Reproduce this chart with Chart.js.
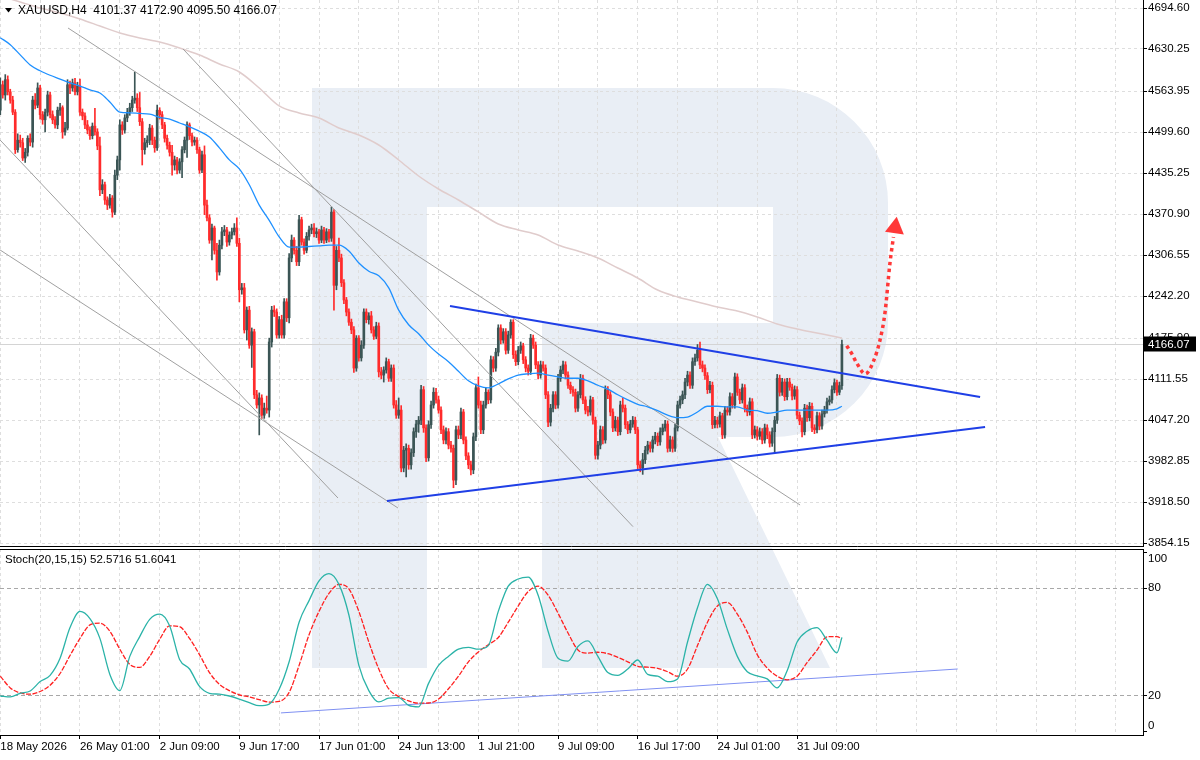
<!DOCTYPE html>
<html>
<head>
<meta charset="utf-8">
<script src="https://cdn.jsdelivr.net/npm/chart.js@4.4.1/dist/chart.umd.min.js"></script>
<style>
  html, body { margin: 0; padding: 0; background: #fff; }
  #wrap { position: relative; width: 1200px; height: 760px; overflow: hidden; background: #fff; }
  #main { position: absolute; left: 0; top: 0; width: 1200px; height: 547px; }
  #osc { position: absolute; left: 0; top: 548px; width: 1200px; height: 212px; }
</style>
</head>
<body>
<div id="wrap">
  <canvas id="main" width="1200" height="547"></canvas>
  <canvas id="osc" width="1200" height="212"></canvas>
</div>
<script>
var symbol = "XAUUSD,H4";
var stochName = "Stoch(20,15,15)";
var stochLast = [52.5716, 51.6041];

var dateLabels = ["18 May 2026", "26 May 01:00", "2 Jun 09:00", "9 Jun 17:00", "17 Jun 01:00",
  "24 Jun 13:00", "1 Jul 21:00", "9 Jul 09:00", "16 Jul 17:00", "24 Jul 01:00", "31 Jul 09:00"];
var labelStep = 32;
var gridStep = 16;

var priceTicks = [4694.60, 4630.25, 4563.95, 4499.60, 4435.25, 4370.90, 4306.55, 4242.20,
  4175.90, 4111.55, 4047.20, 3982.85, 3918.50, 3854.15];
var stochTicks = [100, 80, 20, 0];
var stochLevels = [80, 20];

// H4 bars: [open, high, low, close]
var ohlc = [
  [4534,4585,4527,4574],[4574,4580,4553,4558],[4558,4590,4550,4582],[4582,4588,4558,4563],[4563,4567,4545,4550],
  [4550,4556,4527,4531],[4531,4535,4466,4472],[4472,4497,4468,4487],[4487,4495,4476,4483],[4483,4490,4455,4459],
  [4459,4474,4452,4468],[4468,4494,4462,4490],[4490,4497,4478,4484],[4484,4556,4476,4550],[4550,4560,4536,4542],
  [4542,4577,4538,4569],[4569,4573,4520,4527],[4527,4532,4512,4519],[4519,4536,4500,4531],[4531,4564,4525,4558],
  [4558,4562,4522,4527],[4527,4533,4513,4519],[4519,4524,4506,4511],[4511,4539,4505,4534],[4534,4545,4526,4538],
  [4538,4541,4490,4500],[4500,4515,4495,4506],[4506,4582,4503,4574],[4574,4580,4560,4569],[4569,4583,4564,4577],
  [4577,4584,4558,4563],[4563,4578,4558,4572],[4572,4583,4526,4531],[4531,4536,4519,4525],[4525,4530,4505,4511],
  [4511,4518,4497,4503],[4503,4508,4488,4494],[4494,4514,4489,4509],[4509,4537,4495,4500],[4500,4505,4472,4478],
  [4478,4492,4400,4409],[4409,4425,4403,4417],[4417,4421,4386,4393],[4393,4398,4378,4385],[4385,4402,4380,4396],
  [4396,4400,4366,4374],[4374,4440,4370,4432],[4432,4462,4425,4456],[4456,4519,4440,4511],[4511,4516,4496,4503],
  [4503,4527,4498,4522],[4522,4537,4516,4531],[4531,4545,4526,4538],[4538,4556,4532,4550],[4550,4594,4545,4553],
  [4553,4560,4532,4538],[4538,4562,4510,4516],[4516,4521,4448,4472],[4472,4490,4465,4483],[4483,4494,4476,4487],
  [4487,4512,4480,4506],[4506,4510,4480,4487],[4487,4492,4468,4475],[4475,4542,4471,4534],[4534,4538,4520,4527],
  [4527,4532,4505,4511],[4511,4515,4484,4490],[4490,4495,4473,4479],[4479,4484,4462,4468],[4468,4479,4432,4448],
  [4448,4462,4440,4456],[4456,4460,4434,4440],[4440,4458,4435,4453],[4453,4477,4428,4472],[4472,4492,4467,4487],
  [4487,4516,4460,4511],[4511,4514,4488,4494],[4494,4498,4478,4484],[4484,4492,4479,4487],[4487,4491,4466,4472],
  [4472,4476,4435,4440],[4440,4470,4436,4464],[4464,4478,4370,4385],[4385,4393,4360,4365],[4365,4370,4325,4330],
  [4330,4355,4299,4349],[4349,4352,4308,4314],[4314,4325,4267,4280],[4280,4330,4275,4322],[4322,4350,4316,4343],
  [4343,4353,4337,4346],[4346,4350,4320,4327],[4327,4343,4322,4338],[4338,4349,4332,4343],[4343,4356,4338,4349],
  [4349,4365,4320,4325],[4325,4333,4233,4252],[4252,4262,4245,4255],[4255,4262,4184,4189],[4189,4225,4173,4220],
  [4220,4226,4160,4165],[4165,4192,4130,4186],[4186,4190,4081,4087],[4087,4094,4066,4071],[4071,4090,4024,4082],
  [4082,4087,4050,4055],[4055,4074,4050,4066],[4066,4085,4058,4063],[4063,4176,4052,4170],[4170,4226,4162,4220],
  [4220,4227,4210,4217],[4217,4222,4176,4181],[4181,4210,4176,4205],[4205,4212,4176,4181],[4181,4238,4176,4233],
  [4233,4238,4202,4208],[4208,4309,4200,4302],[4302,4338,4296,4330],[4330,4334,4308,4314],[4314,4320,4290,4296],
  [4296,4369,4290,4362],[4362,4366,4322,4327],[4327,4332,4308,4314],[4314,4342,4310,4336],[4336,4352,4330,4346],
  [4346,4355,4340,4349],[4349,4356,4335,4340],[4340,4349,4334,4343],[4343,4347,4325,4330],[4330,4352,4326,4346],
  [4346,4350,4325,4330],[4330,4348,4326,4343],[4343,4347,4327,4333],[4333,4382,4328,4374],[4374,4378,4220,4259],
  [4259,4320,4252,4314],[4314,4333,4296,4302],[4302,4308,4257,4263],[4263,4268,4230,4236],[4236,4240,4211,4217],
  [4217,4222,4196,4201],[4201,4206,4183,4189],[4189,4194,4122,4129],[4129,4180,4124,4176],[4176,4180,4140,4145],
  [4145,4172,4140,4165],[4165,4222,4160,4217],[4217,4222,4200,4205],[4205,4216,4198,4211],[4211,4218,4184,4189],
  [4189,4194,4174,4179],[4179,4201,4175,4195],[4195,4200,4115,4123],[4123,4130,4112,4118],[4118,4131,4107,4126],
  [4126,4145,4121,4139],[4139,4143,4108,4113],[4113,4134,4108,4129],[4129,4134,4066,4071],[4071,4078,4050,4055],
  [4055,4082,4050,4063],[4063,4070,3966,3972],[3972,4006,3966,4000],[4000,4010,3958,4003],[4003,4008,3970,3977],
  [3977,4002,3970,3996],[3996,4035,3990,4029],[4029,4047,4020,4041],[4041,4053,4028,4047],[4047,4102,4040,4095],
  [4095,4100,4028,4035],[4035,4040,3982,3988],[3988,4046,3983,4040],[4040,4077,4034,4071],[4071,4098,4066,4091],
  [4091,4097,4074,4079],[4079,4085,4058,4063],[4063,4068,4026,4032],[4032,4038,4010,4016],[4016,4035,4010,4029],
  [4029,4034,4002,4008],[4008,4014,3997,4003],[4003,4008,3941,3953],[3953,4038,3946,4032],[4032,4038,4018,4024],
  [4024,4066,4018,4060],[4060,4064,4010,4016],[4016,4021,3985,3991],[3991,3996,3971,3977],[3977,3983,3961,3969],
  [3969,4027,3963,4021],[4021,4104,4015,4098],[4098,4115,4066,4071],[4071,4077,4026,4032],[4032,4077,4026,4071],
  [4071,4097,4066,4091],[4091,4095,4073,4079],[4079,4148,4074,4142],[4142,4147,4123,4129],[4129,4160,4124,4154],
  [4154,4197,4148,4192],[4192,4197,4167,4173],[4173,4191,4168,4186],[4186,4191,4151,4157],[4157,4187,4152,4181],
  [4181,4205,4176,4201],[4201,4205,4144,4150],[4150,4156,4133,4139],[4139,4163,4134,4157],[4157,4170,4152,4164],
  [4164,4168,4136,4142],[4142,4147,4123,4129],[4129,4134,4118,4124],[4124,4182,4119,4176],[4176,4181,4160,4165],
  [4165,4170,4128,4134],[4134,4139,4112,4118],[4118,4140,4113,4134],[4134,4139,4124,4129],[4129,4134,4081,4087],
  [4087,4092,4037,4044],[4044,4072,4038,4066],[4066,4092,4060,4087],[4087,4092,4065,4071],[4071,4119,4066,4113],
  [4113,4132,4108,4126],[4126,4140,4120,4134],[4134,4139,4112,4118],[4118,4123,4097,4102],[4102,4107,4089,4095],
  [4095,4100,4085,4091],[4091,4096,4060,4066],[4066,4092,4061,4087],[4087,4119,4082,4113],[4113,4118,4073,4079],
  [4079,4084,4057,4063],[4063,4069,4054,4060],[4060,4085,4055,4079],[4079,4083,4041,4047],[4047,4052,3986,3992],
  [3992,4014,3986,4008],[4008,4038,4002,4032],[4032,4037,4010,4016],[4016,4101,4011,4095],[4095,4100,4081,4087],
  [4087,4092,4054,4060],[4060,4065,4029,4035],[4035,4053,4030,4047],[4047,4052,4023,4029],[4029,4077,4024,4071],
  [4071,4082,4060,4066],[4066,4071,4034,4040],[4040,4045,4026,4032],[4032,4047,4027,4041],[4041,4053,4036,4047],
  [4047,4052,4026,4032],[4032,4036,3970,3977],[3977,3983,3966,3972],[3972,3995,3962,3985],[3985,4006,3979,4000],
  [4000,4014,3994,4008],[4008,4013,3997,4003],[4003,4022,3997,4016],[4016,4028,4010,4022],[4022,4027,4007,4013],
  [4013,4035,4008,4029],[4029,4041,4024,4035],[4035,4047,4030,4041],[4041,4046,3997,4003],[4003,4022,3998,4016],
  [4016,4021,3997,4003],[4003,4041,3998,4035],[4035,4077,4030,4071],[4071,4085,4066,4079],[4079,4093,4073,4087],
  [4087,4113,4081,4107],[4107,4124,4101,4118],[4118,4123,4097,4102],[4102,4145,4097,4139],[4139,4151,4133,4145],
  [4145,4166,4140,4157],[4157,4170,4128,4134],[4134,4140,4123,4129],[4129,4134,4111,4117],[4117,4122,4089,4095],
  [4095,4108,4090,4102],[4102,4107,4034,4040],[4040,4053,4035,4047],[4047,4052,4035,4041],[4041,4060,4036,4054],
  [4054,4058,4018,4024],[4024,4069,4019,4063],[4063,4068,4055,4060],[4060,4090,4055,4084],[4084,4089,4066,4071],
  [4071,4121,4066,4115],[4115,4120,4086,4091],[4091,4096,4073,4079],[4079,4104,4074,4098],[4098,4103,4060,4066],
  [4066,4071,4054,4060],[4060,4082,4055,4076],[4076,4081,4018,4024],[4024,4038,4019,4032],[4032,4037,4016,4022],
  [4022,4035,4017,4029],[4029,4034,4010,4016],[4016,4041,4011,4035],[4035,4040,4018,4024],[4024,4029,4005,4011],
  [4011,4035,4006,4029],[4029,4053,3996,4047],[4047,4119,4042,4113],[4113,4118,4085,4091],[4091,4113,4086,4107],
  [4107,4112,4078,4084],[4084,4113,4079,4107],[4107,4113,4094,4099],[4099,4104,4079,4085],[4085,4101,4080,4095],
  [4095,4100,4049,4055],[4055,4060,4040,4046],[4046,4051,4021,4029],[4029,4072,4024,4066],[4066,4071,4045,4051],
  [4051,4075,4046,4069],[4069,4074,4029,4035],[4035,4040,4026,4032],[4032,4060,4027,4054],[4054,4059,4032,4038],
  [4038,4063,4033,4057],[4057,4069,4052,4063],[4063,4082,4058,4076],[4076,4085,4071,4079],[4079,4101,4074,4095],
  [4095,4112,4090,4106],[4106,4110,4086,4091],[4091,4107,4087,4101.37],[4101.37,4172.90,4095.50,4166.07]
];

// moving averages, read every 4th / 8th bar
var maFastStep = 4;
var maFast = [4648,4637,4621,4605,4596,4589,4583,4577,4572,4566,
  4561,4547,4531,4530,4529,4528,4523,4520,4514,4508,
  4501,4492,4475,4456,4442,4417,4385,4361,4335,4319,
  4319,4320,4321,4322,4322,4313,4294,4281,4274,4255,
  4220,4197,4183,4165,4151,4139,4124,4109,4101,4098,
  4104,4112,4118,4120,4121,4118,4115,4113,4113,4109,
  4102,4096,4087,4079,4072,4068,4062,4055,4051,4052,
  4060,4069,4069,4068,4068,4063,4062,4058,4060,4063,
  4063,4063,4063,4063,4065,4069];
var maSlowStep = 8;
var maSlow = [4713.5,4704.1,4694.6,4686.8,4677.4,4666.4,4655.4,4647.5,4641.2,4631.8,
  4620.8,4606.7,4594.1,4569.0,4540.7,4529.7,4521.8,4506.1,4495.1,4479.4,
  4455.9,4430.7,4410.3,4393.0,4374.2,4355.3,4345.9,4338.0,4322.3,4312.9,
  4301.9,4286.2,4270.5,4251.6,4240.6,4232.8,4224.9,4218.6,4209.2,4198.2,
  4190.4,4184.1,4177.8,4176.2];

// stochastic, read every 4th bar
var stochStep = 4;
var stochMain = [20,19.5,21.5,22.8,28,31.5,41,58,67,63,
  52,32,23,42,53,62.6,65.5,59,40.3,35,
  25.3,21.5,21,20,18.3,16.3,14.6,15.5,23.7,39,
  61,73,84,88,82,65,37,23,16.7,18.8,
  19.1,14.8,14,27,37,42,46,47,46,48,
  67,81,85,86,76,56,41,39.4,47.5,50.6,
  42,33,31.5,35,40,32,31,28,29.5,50,
  69,82,74,57,42,33.5,31.2,29.5,24.5,34,
  50,56,58,51,44,52.5716];
var stochSignal = [31,24.5,21.7,21,22.5,26,32.5,42.5,52,59.5,
  60.5,56,46,37.5,35.9,42,51.5,59,58.5,52,
  43,33,26.5,23,20.6,19.5,18,16.6,17,22,
  37,54,67,77,82,79.5,67,50,35,24,
  19.7,17.3,16,16.1,18.3,24,31,39,44.5,48.5,
  52.5,61,70,78,81,76,66,55,45.6,43.8,
  44.3,43.5,41.5,39,36.5,36,35.4,33.5,31,35,
  48,61,70,72,65.5,55.5,43,35.5,31,29,
  31,38.5,45.5,52.9,53,51.6041];

// drawn lines: [bar, price, bar, price]
var grayLines = [[-0.1,4487.3,135.6,3924.9],[-0.1,4314.5,159.7,3909.2],
  [27.2,4663.2,321.2,3913.9],[73.4,4630.2,254.1,3879.9]];
var blueLines = [[180.6,4226.5,393.5,4083.6],[155.3,3920.2,395.5,4036.4]];
var stochLine = [112.7,10.6,384.5,35];
var forecastPath = [[339.9,4164],[341.9,4152],[343.9,4137],[347.4,4120],[350.6,4139],
  [353.3,4173],[355.3,4216],[357.3,4294],[358.7,4335]];
var forecastHead = [359.4, 4349.6];

var xMin = -0.12, xMax = 458.92;
var yMin = 3847.9, yMax = 4707.2;
var sMin = -1.67, sMax = 101.67;

var bullColor = "#3b5555";
var bearColor = "#ff2b2b";
var gridColor = "#dedede";
var logoColor = "#e9eef5";
var font = "'Liberation Sans', Arial, sans-serif";

Chart.defaults.font.family = font;
Chart.defaults.font.size = 11.5;
Chart.defaults.color = "#000";

var last = ohlc.length - 1;
var lastBar = ohlc[last];

function stepped(arr, step) {
  return arr.map(function (v, k) { return { x: Math.min(k * step, last), y: v }; });
}
function seg(l) { return [{ x: l[0], y: l[1] }, { x: l[2], y: l[3] }]; }
function gridTicks(scale) {
  var t = [];
  for (var v = 0; v <= xMax; v += gridStep) t.push({ value: v });
  scale.ticks = t;
}
function lineSet(data, color, width, extra) {
  var d = { type: "line", data: data, borderColor: color, borderWidth: width, pointRadius: 0,
    fill: false, cubicInterpolationMode: "monotone" };
  for (var k in extra) d[k] = extra[k];
  return d;
}

function drawLogo(ctx, offY) {
  ctx.save();
  ctx.translate(0, -offY);
  ctx.fillStyle = logoColor;
  ctx.beginPath();
  ctx.moveTo(312, 88);
  ctx.lineTo(773, 88);
  ctx.arc(773, 203, 115, -Math.PI / 2, 0);
  ctx.lineTo(888, 322);
  ctx.arc(773, 322, 115, 0, Math.PI / 2);
  ctx.lineTo(312, 437);
  ctx.closePath();
  ctx.fill();
  ctx.beginPath();
  ctx.moveTo(542, 437); ctx.lineTo(718, 437); ctx.lineTo(830, 668); ctx.lineTo(542, 668);
  ctx.closePath();
  ctx.fill();
  ctx.fillStyle = "#fff";
  ctx.fillRect(427, 207, 346, 116);
  ctx.fillRect(427, 323, 115, 114);
  ctx.fillStyle = logoColor;
  ctx.fillRect(312, 88, 115, 580);
  ctx.restore();
}

var candleColors = ohlc.map(function (b) { return b[3] >= b[0] ? bullColor : bearColor; });

var mainDatasets = [
  { type: "line", data: [{ x: forecastHead[0], y: forecastHead[1] }], showLine: false,
    pointStyle: "triangle", pointRadius: 11, rotation: 8, pointBackgroundColor: "#ff3838",
    pointBorderWidth: 0, borderWidth: 0 },
  lineSet(forecastPath.map(function (p) { return { x: p[0], y: p[1] }; }), "#ff3838", 3.5,
    { borderDash: [3.5, 3.5], borderCapStyle: "butt" }),
  lineSet(seg(blueLines[0]), "#1f3fe6", 2),
  lineSet(seg(blueLines[1]), "#1f3fe6", 2),
  lineSet(stepped(maFast, maFastStep), "#1e90ff", 1.3),
  lineSet(seg(grayLines[0]), "#a0a0a0", 1),
  lineSet(seg(grayLines[1]), "#a0a0a0", 1),
  lineSet(seg(grayLines[2]), "#a0a0a0", 1),
  lineSet(seg(grayLines[3]), "#a0a0a0", 1),
  lineSet(stepped(maSlow, maSlowStep), "#e0cccc", 1.5),
  { type: "bar", data: ohlc.map(function (b, i) { return { x: i, y: [b[0], b[3]] }; }),
    backgroundColor: candleColors, barThickness: 2, grouped: false, minBarLength: 1, borderWidth: 0 },
  { type: "bar", data: ohlc.map(function (b, i) { return { x: i, y: [b[2], b[1]] }; }),
    backgroundColor: candleColors, barThickness: 1, grouped: false, borderWidth: 0 }
];

var mainPlugin = {
  id: "mainDecor",
  beforeDraw: function (chart) {
    drawLogo(chart.ctx, 0);
  },
  beforeDatasetsDraw: function (chart) {
    var ctx = chart.ctx, a = chart.chartArea;
    var yP = Math.round(chart.scales.y.getPixelForValue(lastBar[3])) + 0.5;
    ctx.save();
    ctx.strokeStyle = "#d4d4d4";
    ctx.lineWidth = 1;
    ctx.beginPath(); ctx.moveTo(a.left, yP); ctx.lineTo(a.right, yP); ctx.stroke();
    ctx.restore();
  },
  afterDraw: function (chart) {
    var ctx = chart.ctx, a = chart.chartArea;
    ctx.save();
    ctx.strokeStyle = "#000";
    ctx.lineWidth = 1;
    ctx.beginPath(); ctx.moveTo(0, a.bottom - 0.5); ctx.lineTo(a.right, a.bottom - 0.5); ctx.stroke();
    // price tag
    var yP = chart.scales.y.getPixelForValue(lastBar[3]);
    ctx.fillStyle = "#000";
    ctx.fillRect(a.right + 1, Math.round(yP) - 7.5, 52, 15);
    ctx.fillStyle = "#fff";
    ctx.font = "11.5px " + font;
    ctx.textBaseline = "middle";
    ctx.textAlign = "left";
    ctx.fillText(lastBar[3].toFixed(2), a.right + 5, yP);
    // header
    ctx.fillStyle = "#000";
    ctx.beginPath(); ctx.moveTo(5, 8); ctx.lineTo(12, 8); ctx.lineTo(8.5, 12.5); ctx.closePath(); ctx.fill();
    ctx.font = "12px " + font;
    ctx.fillText(symbol + "  " + lastBar.map(function (v) { return v.toFixed(2); }).join(" "), 18, 11);
    ctx.restore();
  }
};

new Chart(document.getElementById("main"), {
  type: "bar",
  data: { datasets: mainDatasets },
  options: {
    responsive: false,
    animation: false,
    devicePixelRatio: 1,
    layout: { padding: 0, autoPadding: false },
    plugins: { legend: { display: false }, tooltip: { enabled: false } },
    scales: {
      x: {
        type: "linear", min: xMin, max: xMax, offset: false,
        afterBuildTicks: gridTicks,
        afterFit: function (s) { s.height = 0; s.paddingLeft = 0; s.paddingRight = 0; },
        ticks: { display: false },
        grid: { offset: false, color: gridColor, drawTicks: false },
        border: { display: false, dash: [3, 3] }
      },
      y: {
        type: "linear", position: "right", min: yMin, max: yMax,
        afterBuildTicks: function (s) { s.ticks = priceTicks.map(function (v) { return { value: v }; }); },
        afterFit: function (s) { s.width = 57; s.paddingTop = 0; s.paddingBottom = 0; },
        ticks: { autoSkip: false, padding: 1, callback: function (v) { return Number(v).toFixed(2); } },
        grid: { color: gridColor, drawTicks: true, tickLength: 4, tickColor: "#000", tickWidth: 1, tickBorderDash: [] },
        border: { display: true, color: "#000", width: 1, dash: [3, 3] }
      }
    }
  },
  plugins: [mainPlugin]
});

var oscPlugin = {
  id: "oscDecor",
  beforeDraw: function (chart) {
    drawLogo(chart.ctx, 548);
  },
  afterDraw: function (chart) {
    var ctx = chart.ctx, a = chart.chartArea, s = chart.scales.y;
    ctx.save();
    ctx.strokeStyle = "#000";
    ctx.lineWidth = 1;
    ctx.beginPath(); ctx.moveTo(0, a.top + 0.5); ctx.lineTo(a.right, a.top + 0.5); ctx.stroke();
    ctx.fillStyle = "#000";
    ctx.font = "11.5px " + font;
    ctx.textBaseline = "middle";
    ctx.textAlign = "left";
    stochTicks.forEach(function (v) {
      var y = Math.max(a.top + 10, Math.min(a.bottom - 9, s.getPixelForValue(v)));
      ctx.fillText(String(v), a.right + 5, y);
    });
    ctx.fillText(stochName + " " + stochLast[0].toFixed(4) + " " + stochLast[1].toFixed(4), 5, a.top + 11);
    ctx.restore();
  }
};

new Chart(document.getElementById("osc"), {
  type: "line",
  data: {
    datasets: [
      lineSet(stepped(stochMain, stochStep), "#2bb3a8", 1.3),
      lineSet(stepped(stochSignal, stochStep), "#ff2020", 1.3, { borderDash: [5, 1.5] }),
      lineSet(seg(stochLine), "#7f90f2", 1)
    ]
  },
  options: {
    responsive: false,
    animation: false,
    devicePixelRatio: 1,
    layout: { padding: { top: 1, left: 0, right: 0, bottom: 0 }, autoPadding: false },
    plugins: { legend: { display: false }, tooltip: { enabled: false } },
    scales: {
      x: {
        type: "linear", min: xMin, max: xMax, offset: false,
        afterBuildTicks: gridTicks,
        afterFit: function (s) { s.height = 25; s.paddingLeft = 0; s.paddingRight = 0; },
        ticks: {
          autoSkip: false, maxRotation: 0, minRotation: 0, align: "start", padding: 1,
          callback: function (v) { return (v % labelStep === 0 && dateLabels[v / labelStep]) || ""; }
        },
        grid: {
          offset: false, color: gridColor, drawTicks: true, tickLength: 4, tickBorderDash: [],
          tickColor: function (c) {
            var v = c.tick ? c.tick.value : -1;
            return (v % labelStep === 0 && v / labelStep < dateLabels.length) ? "#000" : "rgba(0,0,0,0)";
          }
        },
        border: { display: true, color: "#000", width: 1, dash: [3, 3] }
      },
      y: {
        type: "linear", position: "right", min: sMin, max: sMax,
        afterBuildTicks: function (s) { s.ticks = stochTicks.map(function (v) { return { value: v }; }); },
        afterFit: function (s) { s.width = 57; s.paddingTop = 0; s.paddingBottom = 0; },
        ticks: { display: false },
        grid: {
          drawTicks: true, tickLength: 4, tickColor: "#000", tickBorderDash: [],
          color: function (c) {
            return c.tick && stochLevels.indexOf(c.tick.value) >= 0 ? "#a8a8a8" : "rgba(0,0,0,0)";
          }
        },
        border: { display: true, color: "#000", width: 1, dash: [4, 3] }
      }
    }
  },
  plugins: [oscPlugin]
});
</script>
</body>
</html>
